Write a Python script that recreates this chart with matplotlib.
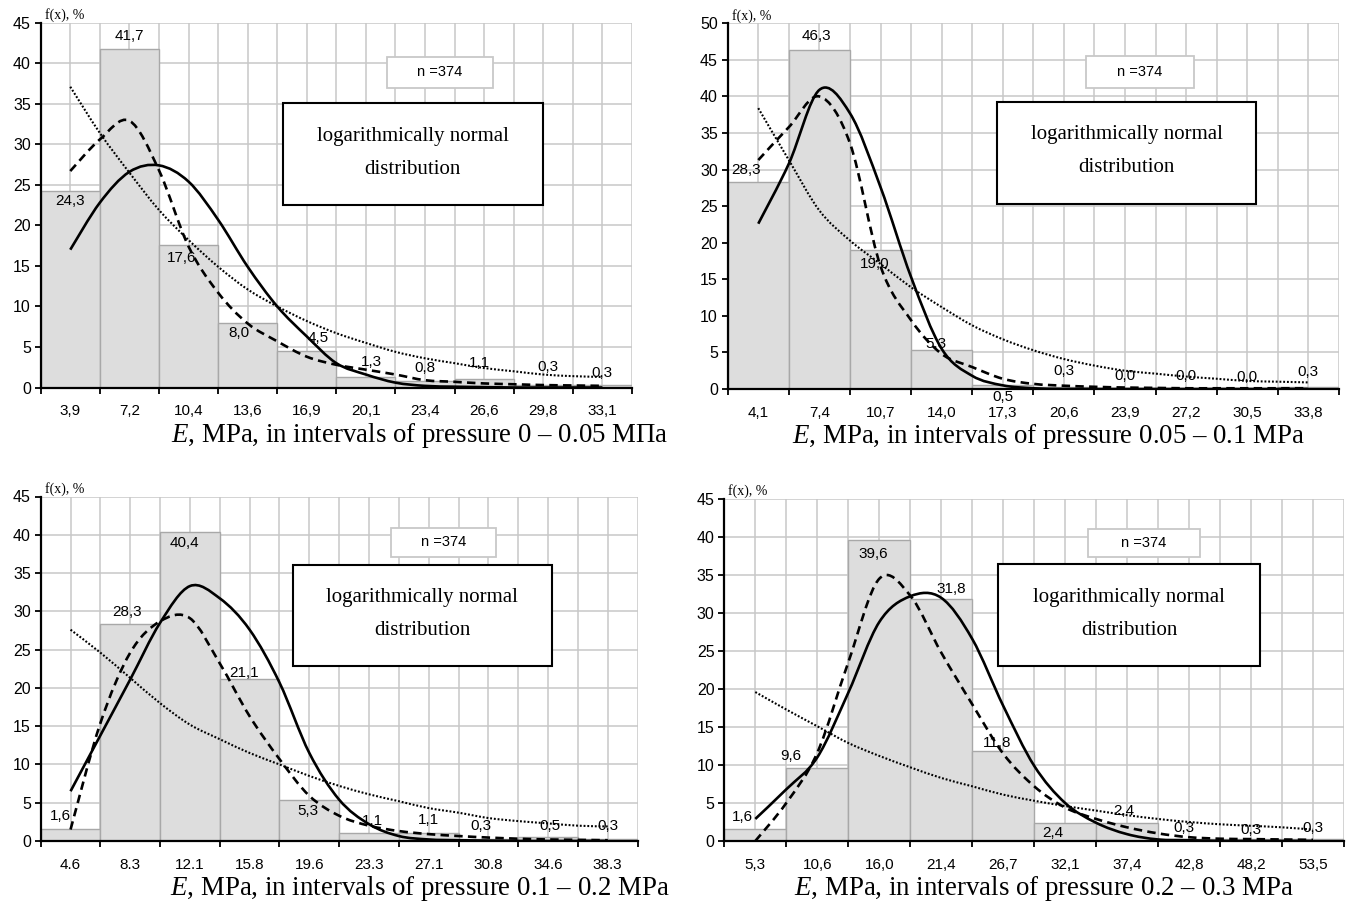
import numpy as np
import matplotlib
matplotlib.use('Agg')
import matplotlib.pyplot as plt
from matplotlib.path import Path
from matplotlib.patches import PathPatch, Rectangle

plt.rcParams['font.family'] = ['Liberation Sans', 'DejaVu Sans']
plt.rcParams['mathtext.fontset'] = 'custom'
plt.rcParams['mathtext.rm'] = 'Liberation Serif'
plt.rcParams['mathtext.it'] = 'Liberation Serif:italic'

# ---- data (bars in %, curves read every half interval) ----
ticks1 = ['3,9', '7,2', '10,4', '13,6', '16,9', '20,1', '23,4', '26,6', '29,8', '33,1']
bars1 = [24.3, 41.7, 17.6, 8.0, 4.5, 1.3, 0.8, 1.1, 0.3, 0.3]
solid1 = [17.0, 22.8, 26.6, 27.4, 25.4, 20.7, 14.9, 10.0, 6.3, 3.0, 1.6, 0.6, 0.2, 0.1, 0.05, 0.0, 0.0, 0.0, 0.0]
dashed1 = [26.7, 30.6, 32.9, 26.8, 17.4, 11.7, 7.9, 5.7, 3.8, 2.8, 2.2, 1.6, 0.9, 0.7, 0.5, 0.4, 0.3, 0.25, 0.2]
dotted1 = [37.1, 31.4, 26.5, 21.9, 18.2, 14.9, 12.1, 10.0, 8.2, 6.7, 5.5, 4.4, 3.6, 3.0, 2.4, 2.0, 1.6, 1.4, 1.3]

ticks2 = ['4,1', '7,4', '10,7', '14,0', '17,3', '20,6', '23,9', '27,2', '30,5', '33,8']
bars2 = [28.3, 46.3, 19.0, 5.3, 0.5, 0.3, 0.0, 0.0, 0.0, 0.3]
solid2 = [22.6, 30.8, 40.9, 37.7, 27.6, 15.3, 5.5, 1.8, 0.5, 0.1, 0.0, 0.0, 0.0, 0.0, 0.0, 0.0, 0.0, 0.0, 0.0]
dashed2 = [31.3, 35.8, 40.0, 33.6, 16.8, 9.4, 4.8, 3.0, 1.4, 0.7, 0.45, 0.3, 0.2, 0.15, 0.1, 0.1, 0.1, 0.1, 0.1]
dotted2 = [38.4, 31.3, 24.4, 20.3, 17.1, 13.9, 11.2, 8.7, 6.8, 5.3, 4.1, 3.2, 2.5, 2.1, 1.7, 1.4, 1.1, 1.0, 0.9]

ticks3 = ['4.6', '8.3', '12.1', '15.8', '19.6', '23.3', '27.1', '30.8', '34.6', '38.3']
bars3 = [1.6, 28.3, 40.4, 21.1, 5.3, 1.1, 1.1, 0.3, 0.5, 0.3]
solid3 = [6.5, 13.8, 21.1, 28.5, 33.3, 31.7, 27.6, 20.7, 11.5, 5.4, 2.2, 0.65, 0.2, 0.1, 0.05, 0.0, 0.0, 0.0, 0.0]
dashed3 = [1.5, 15.4, 24.6, 28.7, 29.1, 23.2, 16.3, 10.7, 5.9, 3.3, 2.0, 1.3, 0.9, 0.65, 0.45, 0.3, 0.2, 0.15, 0.1]
dotted3 = [27.6, 24.6, 21.3, 18.0, 15.2, 13.3, 11.5, 10.0, 8.5, 7.2, 6.1, 5.2, 4.3, 3.7, 3.0, 2.6, 2.3, 2.0, 1.9]

ticks4 = ['5,3', '10,6', '16,0', '21,4', '26,7', '32,1', '37,4', '42,8', '48,2', '53,5']
bars4 = [1.6, 9.6, 39.6, 31.8, 11.8, 2.4, 2.4, 0.3, 0.3, 0.3]
solid4 = [2.9, 6.8, 11.0, 19.5, 28.8, 32.2, 32.0, 26.6, 17.8, 9.9, 5.0, 2.4, 0.9, 0.2, 0.1, 0.0, 0.0, 0.0, 0.0]
dashed4 = [0.0, 5.0, 11.6, 23.5, 34.5, 32.3, 24.8, 18.0, 11.5, 7.2, 4.4, 2.9, 1.8, 1.0, 0.5, 0.3, 0.25, 0.2, 0.15]
dotted4 = [19.6, 17.3, 15.1, 12.9, 11.2, 9.7, 8.3, 7.2, 6.1, 5.3, 4.6, 4.0, 3.4, 2.9, 2.5, 2.2, 2.0, 1.8, 1.5]

n_text = 'n =374'
box_lines = ['logarithmically normal', 'distribution']

W, H = 1346, 906
fig = plt.figure(figsize=(W / 100, H / 100), dpi=100)


def smooth_line(ax, ys, **kw):
    # excel-like smoothed line through the read points
    pts = np.column_stack([np.arange(len(ys)) * 0.5, ys])
    verts = [pts[0]]
    codes = [Path.MOVETO]
    for k in range(len(pts) - 1):
        p0 = pts[k - 1] if k > 0 else pts[k]
        p1, p2 = pts[k], pts[k + 1]
        p3 = pts[k + 2] if k + 2 < len(pts) else pts[k + 1]
        verts += [p1 + (p2 - p0) / 6, p2 - (p3 - p1) / 6, p2]
        codes += [Path.CURVE4] * 3
    ax.add_patch(PathPatch(Path(verts, codes), fill=False, zorder=4, **kw))


panels = [
    dict(rect=(40.7, 22.7, 632, 387.5), ymax=45, ticks=ticks1, bars=bars1,
         curves=(solid1, dashed1, dotted1),
         dx=[0, 0, -0.12, -0.14, 0.19, 0.09, 0, -0.08, 0.08, 0],
         dy=[-1.3, 1.7, -1.6, -1.3, 1.6, 1.9, 1.6, 1.9, 2.2, 1.55],
         nbox=(0.586, 0.82, 0.765, 0.907), lbox=(0.409, 0.50, 0.85, 0.78),
         xlabel=r'$\mathit{E}$, MPa, in intervals of pressure 0 – 0.05 MПa', xl=(170.7, 442)),
    dict(rect=(727.7, 23.3, 1339, 389), ymax=50, ticks=ticks2, bars=bars2,
         curves=(solid2, dashed2, dotted2),
         dx=[-0.2, -0.05, -0.1, -0.1, 0, 0, 0, 0, 0, 0],
         dy=[1.6, 1.9, -1.9, 0.9, -1.6, 2.1, 1.8, 1.8, 1.6, 2.0],
         nbox=(0.586, 0.824, 0.763, 0.91), lbox=(0.441, 0.506, 0.864, 0.786),
         xlabel=r'$\mathit{E}$, MPa, in intervals of pressure 0.05 – 0.1 MPa', xl=(791.6, 443)),
    dict(rect=(40.7, 496.5, 637.6, 841), ymax=45, ticks=ticks3, bars=bars3,
         curves=(solid3, dashed3, dotted3),
         dx=[-0.17, -0.05, -0.1, -0.1, -0.03, 0.06, 0, -0.12, 0.03, 0],
         dy=[1.7, 1.6, -1.5, 0.9, -1.4, 1.5, 1.7, 1.7, 1.5, 1.7],
         nbox=(0.587, 0.824, 0.763, 0.909), lbox=(0.422, 0.507, 0.857, 0.802),
         xlabel=r'$\mathit{E}$, MPa, in intervals of pressure 0.1 – 0.2 MPa', xl=(170.4, 895)),
    dict(rect=(724.3, 499, 1344, 841), ymax=45, ticks=ticks4, bars=bars4,
         curves=(solid4, dashed4, dotted4),
         dx=[-0.2, -0.42, -0.1, 0.17, -0.1, -0.2, -0.06, -0.08, 0, 0],
         dy=[1.5, 1.6, -1.8, 1.3, 1.1, -1.3, 1.6, 1.45, 1.2, 1.45],
         nbox=(0.587, 0.831, 0.767, 0.911), lbox=(0.442, 0.511, 0.864, 0.809),
         xlabel=r'$\mathit{E}$, MPa, in intervals of pressure 0.2 – 0.3 MPa', xl=(793.8, 895)),
]

for p in panels:
    l, t, r, b = p['rect']
    ax = fig.add_axes([l / W, 1 - b / H, (r - l) / W, (b - t) / H])
    x = np.arange(len(p['bars']))
    ax.bar(x, p['bars'], width=1.0, color='#dddddd', edgecolor='#a8a8a8', linewidth=1.0, zorder=2)

    solid, dashed, dotted = p['curves']
    smooth_line(ax, solid, color='black', linewidth=1.9, linestyle='-')
    smooth_line(ax, dashed, color='black', linewidth=1.9, linestyle=(0, (3.2, 2.0)))
    smooth_line(ax, dotted, color='black', linewidth=1.5, linestyle=(0, (0.9, 0.9)))

    for i, v in enumerate(p['bars']):
        ax.text(i + p['dx'][i], v + p['dy'][i], f'{v:.1f}'.replace('.', ','),
                ha='center', va='center', fontsize=11, zorder=5)

    ax.set_xlim(-0.5, len(x) - 0.5)
    ax.set_ylim(0, p['ymax'])
    ax.set_yticks(np.arange(0, p['ymax'] + 1, 5))
    ax.set_xticks(np.arange(-0.5, len(x), 1.0))
    ax.set_xticklabels([])
    ax.set_xticks(x, minor=True)
    ax.set_xticklabels(p['ticks'], minor=True)
    ax.tick_params(axis='x', which='major', direction='out', length=4, width=1.3, color='black')
    ax.tick_params(axis='x', which='minor', length=0, pad=12, labelsize=11)
    ax.tick_params(axis='y', direction='out', length=4, width=1.3, labelsize=11.5, pad=3)
    ax.grid(True, axis='x', which='both', color='#c8c8c8', linewidth=1.1)
    ax.grid(True, axis='y', which='major', color='#c8c8c8', linewidth=1.1)
    ax.set_axisbelow(True)
    for s in ('top', 'right'):
        ax.spines[s].set_visible(False)
    for s in ('left', 'bottom'):
        ax.spines[s].set_linewidth(1.6)
        ax.spines[s].set_zorder(6)

    ax.annotate('f(x), %', xy=(0, 1), xycoords='axes fraction', xytext=(3, 5.5),
                textcoords='offset points', ha='left', va='center',
                fontsize=10, family='Liberation Serif')

    # n box
    x0, y0, x1, y1 = p['nbox']
    ax.add_patch(Rectangle((x0, y0), x1 - x0, y1 - y0, transform=ax.transAxes,
                           facecolor='white', edgecolor='#c8c8c8', linewidth=1.3, zorder=7))
    ax.text((x0 + x1) / 2, (y0 + y1) / 2, n_text, transform=ax.transAxes,
            ha='center', va='center', fontsize=10.5, zorder=8)

    # distribution box
    x0, y0, x1, y1 = p['lbox']
    ax.add_patch(Rectangle((x0, y0), x1 - x0, y1 - y0, transform=ax.transAxes,
                           facecolor='white', edgecolor='black', linewidth=1.5, zorder=7))
    for frac, line in zip((0.676, 0.353), box_lines):
        ax.text((x0 + x1) / 2, y0 + frac * (y1 - y0), line, transform=ax.transAxes,
                ha='center', va='center', fontsize=15, family='Liberation Serif', zorder=8)

    fig.text(p['xl'][0] / W, 1 - p['xl'][1] / H, p['xlabel'], ha='left', va='baseline',
             fontsize=19.4, family='Liberation Serif')

fig.savefig('out.png', dpi=100)
